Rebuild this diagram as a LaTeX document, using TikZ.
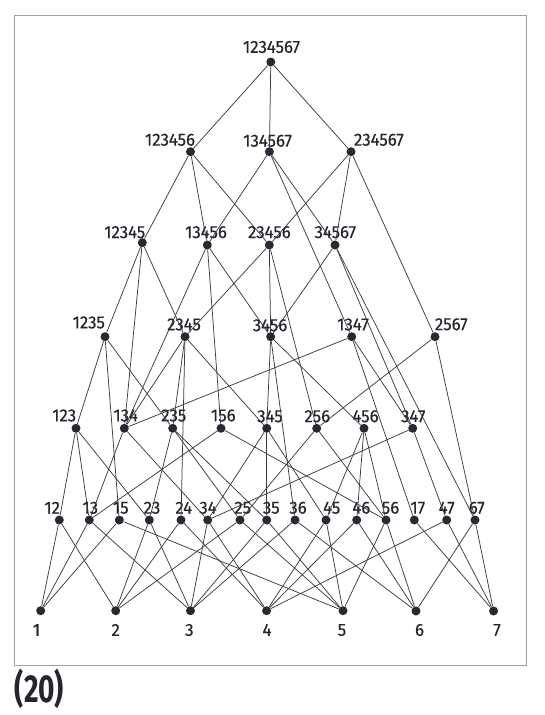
\documentclass[tikz,border=0pt]{standalone}
\usepackage{fontspec}
\setmainfont{Fira Sans}[FakeStretch=0.96,FakeBold=0.4]
\newfontfamily\capfont{Fira Sans}[FakeStretch=0.72]
\definecolor{dotc}{HTML}{262A33}
\definecolor{edgec}{HTML}{3A3C40}
\definecolor{labc}{HTML}{23262D}
\definecolor{framec}{HTML}{A0A0A0}
\begin{document}
\begin{tikzpicture}[x=1pt,y=-1pt,
  dot/.style={circle,fill=dotc,draw=none,inner sep=0pt,minimum size=9pt},
  lab/.style={text=labc,font=\fontsize{17.5}{17.5}\selectfont,inner sep=0pt,anchor=center},
  edge/.style={draw=edgec,line width=0.75pt}]
\useasboundingbox (0,0) rectangle (545,715);
% outer frame
\draw[framec,line width=1pt] (14.6,15.7) rectangle (526.6,665.5);
% lattice elements: name / dot x / dot y / label x / label y
\foreach \n/\x/\y/\lx/\ly in {
  1234567/270.8/62/271.5/47,
  123456/190.5/151.7/170/139.8, 134567/269.4/151.7/267.6/140.8, 234567/351/151.7/378.9/139.8,
  12345/142.3/242.7/124.8/232.2, 13456/207.3/245/206/232.2, 23456/269.3/245/269.4/232.2, 34567/335/245/335.3/232.2,
  1235/105/336.7/88.8/322.5, 2345/185/336.7/184/324.5, 3456/270.7/336.7/270/325.3, 1347/351.7/336.7/353/324.5, 2567/435/336.7/451.3/324.3,
  123/76/428.3/64.2/415.5, 134/124.3/428.3/125.7/415.5, 235/172.7/428.3/173.8/415.5, 156/221/428.3/223.3/415.5,
  345/266.7/428.3/270/416.3, 256/316.7/428.3/317.3/416.3, 456/364/428.3/365.5/416.3, 347/412.7/428.3/413.3/416.3,
  12/59.3/520/52.2/507.8, 13/89.3/520/90.3/507.8, 15/119.3/520/120.8/507.8, 23/149.3/520/152/507.8,
  24/181/520/183.8/507.8, 34/207.7/520/208/507.8, 25/240/520/242.8/507.8, 35/266.7/520/271.3/507.8,
  36/295/520/298/507.8, 45/326/520/331.7/507.8, 46/356.7/520/361.3/507.8, 56/386/520/390.5/507.8,
  17/414.3/520/417.8/507.8, 47/446.7/520/446.7/507.8, 67/475/520/476.7/507.8,
  1/40.7/610.7/36.5/630, 2/115.7/610.7/115.7/630, 3/190.5/610.7/189.4/630, 4/266.6/610.7/267/630,
  5/343/610.7/342/630, 6/416/611/419.5/630, 7/493.6/611/497/630}
{
  \node[dot] (n\n) at (\x,\y) {};
  \node[lab] (t\n) at (\lx,\ly) {\n};
}
% covering edges
\foreach \a/\b in {
  1234567/123456, 1234567/134567, 1234567/234567,
  123456/12345, 123456/13456, 123456/23456,
  134567/13456, 134567/34567, 134567/1347,
  234567/23456, 234567/34567, 234567/2567,
  12345/1235, 12345/2345, 12345/134,
  13456/3456, 13456/134, 13456/156,
  23456/2345, 23456/3456, 23456/256,
  34567/3456, 34567/347, 34567/67,
  1235/123, 1235/235, 1235/15,
  2345/134, 2345/235, 2345/345, 2345/24,
  3456/345, 3456/456, 3456/36,
  1347/134, 1347/347, 1347/17,
  2567/256, 2567/67,
  123/12, 123/13, 123/23,
  134/13, 134/34,
  235/23, 235/25, 235/35,
  156/13, 156/56,
  345/34, 345/35, 345/45,
  256/25, 256/56,
  456/45, 456/46, 456/56,
  347/34, 347/47,
  12/1, 12/2, 13/1, 13/3, 15/1, 15/5, 23/2, 23/3, 24/2, 24/4,
  34/3, 34/4, 25/2, 25/5, 35/3, 35/5, 36/3, 36/6, 45/4, 45/5,
  46/4, 46/6, 56/5, 56/6, 17/7, 47/4, 47/7, 67/6, 67/7}
{
  \draw[edge] (n\a) -- (n\b);
}
% figure number
\node[anchor=center,text=labc,inner sep=0pt] (cap) at (39.5,688.5)
  {\capfont\fontsize{39}{39}\selectfont\bfseries (20)};
\end{tikzpicture}
\end{document}
